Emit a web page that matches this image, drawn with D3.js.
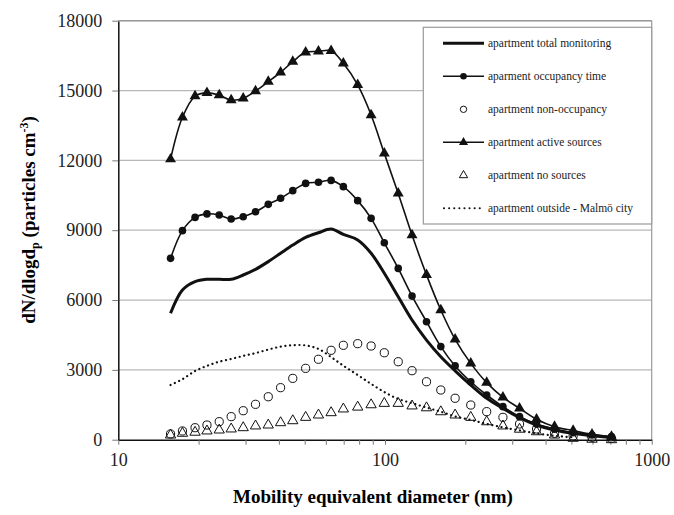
<!DOCTYPE html>
<html>
<head>
<meta charset="utf-8">
<script src="https://cdn.jsdelivr.net/npm/d3@7"></script>
<style>
  body { margin: 0; background: #fff; }
  svg { font-family: "Liberation Serif", "DejaVu Serif", serif; }
  .axis text { font-size: 18px; fill: #222; }
  .legend text { font-size: 11.5px; fill: #222; }
</style>
</head>
<body>
<div class="d3"></div>
<script>
// mobility diameters (nm)
var diam = [15.7, 17.4, 19.4, 21.5, 23.9, 26.5, 29.4, 32.7, 36.5, 40.6, 45.1, 50.4, 56.3, 62.8, 69.8, 79.0,
	88.7, 99.4, 112.1, 126.3, 143.1, 161.9, 183.2, 209.7, 240.6, 276.8, 319.5, 370.0, 432.2, 507.5, 597.3, 706.6];

var totalMonitoring = [5430, 6430, 6790, 6890, 6890, 6890, 7075, 7320, 7650, 8010, 8360, 8690, 8890, 9050, 8820, 8580,
	8010, 7150, 6140, 5140, 4280, 3565, 2960, 2350, 1780, 1350, 945, 630, 420, 275, 170, 100];
var occupancy = [7790, 8980, 9550, 9700, 9650, 9480, 9580, 9790, 10110, 10370, 10700, 11010, 11060, 11140, 10870, 10270,
	9510, 8460, 7360, 6170, 5070, 4000, 3170, 2490, 1920, 1420, 990, 670, 450, 300, 200, 130];
var nonOccupancy = [245, 375, 515, 630, 775, 990, 1245, 1520, 1845, 2235, 2635, 3065, 3455, 3840, 4055, 4125,
	4025, 3735, 3350, 2965, 2490, 2135, 1780, 1490, 1205, 960, 675, 460, 275, 160, 105, 60];
var activeSources = [12050, 13850, 14760, 14900, 14800, 14590, 14670, 14980, 15380, 15780, 16240, 16640, 16680, 16710, 16170, 15240,
	13950, 12300, 10580, 8790, 7080, 5570, 4310, 3280, 2450, 1820, 1350, 880, 560, 390, 230, 130];
var noSources = [200, 275, 320, 375, 415, 460, 515, 590, 630, 730, 815, 960, 1060, 1160, 1320, 1400,
	1500, 1560, 1560, 1450, 1370, 1200, 1060, 960, 770, 590, 450, 340, 200, 60, 20, 0];
var outside = [2350, 2600, 2950, 3170, 3350, 3470, 3600, 3720, 3870, 4000, 4060, 4050, 3900, 3550, 3180, 2780,
	2400, 2050, 1750, 1570, 1380, 1200, 1000, 850, 680, 530, 400, 270, 170, 100];

var yTicks = [0, 3000, 6000, 9000, 12000, 15000, 18000];
var xMajor = [10, 100, 1000];
var xMinor = [20, 30, 40, 50, 60, 70, 80, 90, 200, 300, 400, 500, 600, 700, 800, 900];

var legendNames = ["apartment total monitoring", "aparment occupancy time", "apartment non-occupancy",
	"apartment active sources", "apartment no sources", "apartment outside - Malmö city"];

var w = 674, h = 515;
var mLeft = 118.3, mRight = 651.7, mTop = 20.7, mBottom = 439.7;

var svg = d3.select(".d3").append("svg")
	.attr("width", w)
	.attr("height", h);

var xScale = d3.scaleLog().domain([10, 1000]).range([mLeft, mRight]);
var yScale = d3.scaleLinear().domain([0, 18000]).range([mBottom, mTop]);

// grid lines
svg.append("g").selectAll("line")
	.data(yTicks.filter(d => d > 0))
	.enter().append("line")
	.attr("x1", mLeft).attr("x2", mRight)
	.attr("y1", d => yScale(d)).attr("y2", d => yScale(d))
	.attr("stroke", "#b8b8b8").attr("stroke-width", 1.2);
// right frame
svg.append("line")
	.attr("x1", mRight).attr("x2", mRight).attr("y1", mTop).attr("y2", mBottom)
	.attr("stroke", "#9a9a9a").attr("stroke-width", 1.2);

// axes
var xAxis = d3.axisBottom(xScale)
	.tickValues(xMajor.concat(xMinor))
	.tickSize(5).tickSizeOuter(0).tickPadding(9)
	.tickFormat(d => xMajor.indexOf(d) >= 0 ? d : "");
var gx = svg.append("g").attr("class", "axis")
	.attr("transform", "translate(0," + mBottom + ")")
	.call(xAxis);
gx.attr("font-family", null).attr("font-size", null);
gx.select(".domain").attr("stroke", "#111").attr("stroke-width", 1.5);
gx.selectAll(".tick line").attr("stroke", "#777");

var yAxis = d3.axisLeft(yScale)
	.tickValues(yTicks)
	.tickFormat(d3.format("d"))
	.tickSize(6).tickSizeOuter(0).tickPadding(10);
var gy = svg.append("g").attr("class", "axis")
	.attr("transform", "translate(" + mLeft + ",0)")
	.call(yAxis);
gy.attr("font-family", null).attr("font-size", null);
gy.select(".domain").attr("stroke", "#111").attr("stroke-width", 1.5);
gy.selectAll(".tick line").attr("stroke", "#777");

// series
function pts(vals) { return vals.map((v, i) => [diam[i], v]); }
var line = d3.line()
	.x(d => xScale(d[0]))
	.y(d => yScale(d[1]))
	.curve(d3.curveCatmullRom.alpha(0.5));

var tri = d3.symbol().type(d3.symbolTriangle);

var plot = svg.append("g");

// outside - dotted
plot.append("path")
	.attr("d", line(pts(outside)))
	.attr("fill", "none").attr("stroke", "#111")
	.attr("stroke-width", 2.2).attr("stroke-linecap", "round")
	.attr("stroke-dasharray", "0.1,4.6");

// non-occupancy - open circles
plot.append("g").selectAll("circle")
	.data(pts(nonOccupancy)).enter().append("circle")
	.attr("cx", d => xScale(d[0])).attr("cy", d => yScale(d[1]))
	.attr("r", 4.1).attr("fill", "none").attr("stroke", "#111").attr("stroke-width", 1);

// no sources - open triangles
plot.append("g").selectAll("path")
	.data(pts(noSources)).enter().append("path")
	.attr("d", tri.size(46)())
	.attr("transform", d => "translate(" + xScale(d[0]) + "," + yScale(d[1]) + ")")
	.attr("fill", "none").attr("stroke", "#111").attr("stroke-width", 1);

// total monitoring - thick line
plot.append("path")
	.attr("d", line(pts(totalMonitoring)))
	.attr("fill", "none").attr("stroke", "#111").attr("stroke-width", 3);

// occupancy time - line + filled circles
plot.append("path")
	.attr("d", line(pts(occupancy)))
	.attr("fill", "none").attr("stroke", "#111").attr("stroke-width", 1.6);
plot.append("g").selectAll("circle")
	.data(pts(occupancy)).enter().append("circle")
	.attr("cx", d => xScale(d[0])).attr("cy", d => yScale(d[1]))
	.attr("r", 3.8).attr("fill", "#111");

// active sources - line + filled triangles
plot.append("path")
	.attr("d", line(pts(activeSources)))
	.attr("fill", "none").attr("stroke", "#111").attr("stroke-width", 1.6);
plot.append("g").selectAll("path")
	.data(pts(activeSources)).enter().append("path")
	.attr("d", tri.size(52)())
	.attr("transform", d => "translate(" + xScale(d[0]) + "," + yScale(d[1]) + ")")
	.attr("fill", "#111");

// top frame (plot border)
svg.append("line")
	.attr("x1", mLeft).attr("x2", mRight).attr("y1", mTop).attr("y2", mTop)
	.attr("stroke", "#9a9a9a").attr("stroke-width", 1.5);

// legend
var lg = svg.append("g").attr("class", "legend");
lg.append("rect")
	.attr("x", 423.3).attr("y", 27.3)
	.attr("width", mRight - 423.3).attr("height", 224 - 27.3)
	.attr("fill", "#fff").attr("stroke", "#9a9a9a").attr("stroke-width", 1.2);

var items = lg.selectAll(".item")
	.data(legendNames).enter().append("g")
	.attr("class", "item")
	.attr("transform", (d, i) => "translate(443," + (43.3 + i * 33) + ")");

items.append("text")
	.attr("x", 45).attr("y", 0).attr("dy", "0.35em")
	.text(d => d);

items.each(function(d, i) {
	var g = d3.select(this);
	if (i === 0) {
		g.append("line").attr("x1", 0).attr("x2", 41).attr("stroke", "#111").attr("stroke-width", 3);
	} else if (i === 1) {
		g.append("line").attr("x1", 0).attr("x2", 41).attr("stroke", "#111").attr("stroke-width", 1.5);
		g.append("circle").attr("cx", 20.5).attr("r", 3.3).attr("fill", "#111");
	} else if (i === 2) {
		g.append("circle").attr("cx", 20.5).attr("r", 3.2).attr("fill", "none").attr("stroke", "#111");
	} else if (i === 3) {
		g.append("line").attr("x1", 0).attr("x2", 41).attr("stroke", "#111").attr("stroke-width", 1.5);
		g.append("path").attr("d", tri.size(36)()).attr("transform", "translate(20.5,0)").attr("fill", "#111");
	} else if (i === 4) {
		g.append("path").attr("d", tri.size(30)()).attr("transform", "translate(20.5,0)")
			.attr("fill", "none").attr("stroke", "#111");
	} else {
		g.append("line").attr("x1", 1).attr("x2", 41).attr("stroke", "#111")
			.attr("stroke-width", 2).attr("stroke-linecap", "round").attr("stroke-dasharray", "0.1,5");
	}
});

// axis titles
svg.append("text")
	.attr("x", 373).attr("y", 503)
	.attr("text-anchor", "middle")
	.attr("font-size", "19px").attr("font-weight", "bold")
	.text("Mobility equivalent diameter (nm)");

var yt = svg.append("text")
	.attr("transform", "translate(35,220) rotate(-90)")
	.attr("text-anchor", "middle")
	.attr("font-size", "19px").attr("font-weight", "bold");
yt.append("tspan").text("dN/dlogd");
yt.append("tspan").attr("font-size", "12px").attr("dy", 4).text("p");
yt.append("tspan").attr("dy", -4).text(" (particles cm");
yt.append("tspan").attr("font-size", "12px").attr("dy", -7).text("-3");
yt.append("tspan").attr("dy", 7).text(")");
</script>
</body>
</html>
